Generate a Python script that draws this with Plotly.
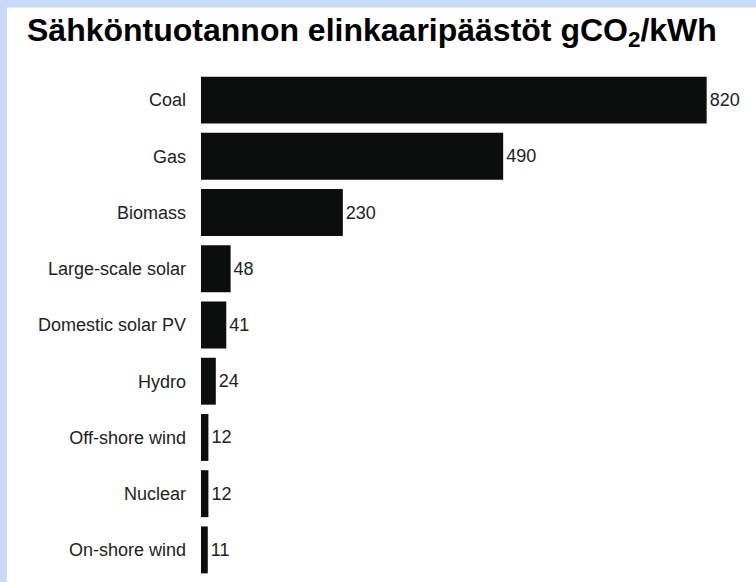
import plotly.graph_objects as go

categories = ["Coal", "Gas", "Biomass", "Large-scale solar", "Domestic solar PV",
              "Hydro", "Off-shore wind", "Nuclear", "On-shore wind"]
values = [820, 490, 230, 48, 41, 24, 12, 12, 11]
title_text = "Sähköntuotannon elinkaaripäästöt gCO<sub>2</sub>/kWh"

W, H = 756, 582
L, R, T, B = 201, 0, 72, 4
pw, ph = W - L - R, H - T - B

fig = go.Figure(go.Bar(
    x=values, y=categories, orientation="h",
    marker=dict(color="#0c0e0d", line=dict(width=0)),
    text=[str(v) for v in values], textposition="outside",
    textfont=dict(family="Liberation Sans, Arial", size=18, color="#222222"),
    cliponaxis=False,
))

blue = "#c9daf8"
shapes = [
    dict(type="rect", xref="paper", yref="paper", layer="above",
         x0=-L / pw, x1=1 + (R + 2) / pw, y0=1 + (T - 7.5) / ph, y1=1 + (T + 2) / ph,
         fillcolor=blue, line=dict(width=0)),
    dict(type="rect", xref="paper", yref="paper", layer="above",
         x0=-L / pw, x1=(7 - L) / pw, y0=-(B + 2) / ph, y1=1 + (T + 2) / ph,
         fillcolor=blue, line=dict(width=0)),
]

fig.update_layout(
    width=W, height=H,
    margin=dict(l=L, r=R, t=T, b=B, pad=0),
    paper_bgcolor="white", plot_bgcolor="white",
    bargap=0.165,
    showlegend=False,
    shapes=shapes,
    title=dict(text=title_text, x=27 / W, xanchor="left", xref="container",
               y=1 - 29.5 / H, yanchor="middle", yref="container",
               font=dict(family="Liberation Sans, Arial", size=32, color="black", weight="bold")),
    xaxis=dict(range=[0, 900], visible=False, fixedrange=True),
    yaxis=dict(autorange=False, range=[8.5, -0.5], showgrid=False, zeroline=False,
               showline=False, ticks="", ticklabelstandoff=14, fixedrange=True,
               tickfont=dict(family="Liberation Sans, Arial", size=18, color="#222222")),
)

fig.write_html("out.html", config={"displayModeBar": False},
               post_script="document.body.style.margin='0';document.body.style.padding='0';")
